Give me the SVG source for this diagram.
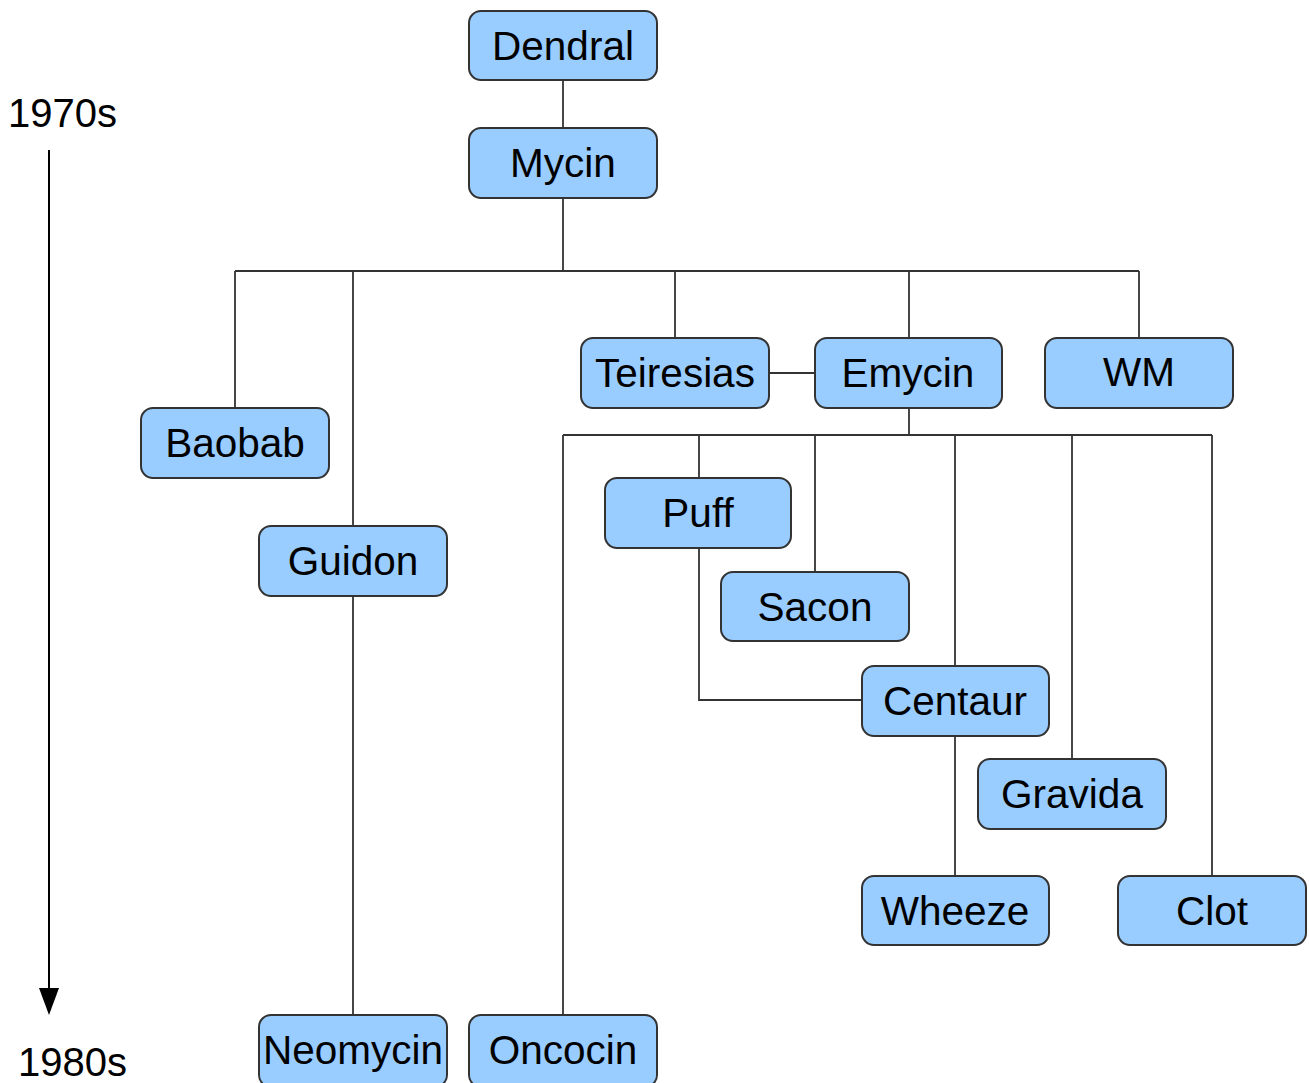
<svg xmlns="http://www.w3.org/2000/svg" width="1309" height="1083" viewBox="0 0 1309 1083">
<style>
.box{fill:#99ccff;stroke:#333;stroke-width:2}
.lbl{font-family:"Liberation Sans",Arial,sans-serif;font-size:40.5px;fill:#000;text-anchor:middle}
.yr{font-family:"Liberation Sans",Arial,sans-serif;font-size:40px;fill:#000}
.c{fill:none;stroke:#333;stroke-width:1.8}
</style>
<rect width="1309" height="1083" fill="#fff"/>
<g id="timeline">
<text class="yr" x="8" y="127">1970s</text>
<line x1="49" y1="150" x2="49" y2="992" stroke="#000" stroke-width="2"/>
<polygon points="39,988 59,988 49,1015" fill="#000"/>
<text class="yr" x="18" y="1076">1980s</text>
</g>
<g id="connectors">
<path class="c" d="M563 80V128"/>
<path class="c" d="M563 198V271M235 271H1139M235 271V408M353 271V526M675 271V338M909 271V338M1139 271V338"/>
<path class="c" d="M353 596V1015"/>
<path class="c" d="M769 373H815"/>
<path class="c" d="M909 408V435M563 435H1212M563 435V1015M699 435V478M815 435V572M955 435V666M1072 435V759M1212 435V876"/>
<path class="c" d="M699 548V700H862"/>
<path class="c" d="M955 736V876"/>
</g>
<g id="dendral"><rect class="box" x="469" y="11" width="188" height="69" rx="12"/><text class="lbl" x="563" y="60">Dendral</text></g>
<g id="mycin"><rect class="box" x="469" y="128" width="188" height="70" rx="12"/><text class="lbl" x="563" y="177">Mycin</text></g>
<g id="baobab"><rect class="box" x="141" y="408" width="188" height="70" rx="12"/><text class="lbl" x="235" y="457">Baobab</text></g>
<g id="guidon"><rect class="box" x="259" y="526" width="188" height="70" rx="12"/><text class="lbl" x="353" y="575">Guidon</text></g>
<g id="teiresias"><rect class="box" x="581" y="338" width="188" height="70" rx="12"/><text class="lbl" x="675" y="387">Teiresias</text></g>
<g id="emycin"><rect class="box" x="815" y="338" width="187" height="70" rx="12"/><text class="lbl" x="908" y="387">Emycin</text></g>
<g id="wm"><rect class="box" x="1045" y="338" width="188" height="70" rx="12"/><text class="lbl" x="1139" y="386">WM</text></g>
<g id="puff"><rect class="box" x="605" y="478" width="186" height="70" rx="12"/><text class="lbl" x="698" y="527">Puff</text></g>
<g id="sacon"><rect class="box" x="721" y="572" width="188" height="69" rx="12"/><text class="lbl" x="815" y="621">Sacon</text></g>
<g id="centaur"><rect class="box" x="862" y="666" width="187" height="70" rx="12"/><text class="lbl" x="955" y="715">Centaur</text></g>
<g id="gravida"><rect class="box" x="978" y="759" width="188" height="70" rx="12"/><text class="lbl" x="1072" y="808">Gravida</text></g>
<g id="wheeze"><rect class="box" x="862" y="876" width="187" height="69" rx="12"/><text class="lbl" x="955" y="925">Wheeze</text></g>
<g id="clot"><rect class="box" x="1118" y="876" width="188" height="69" rx="12"/><text class="lbl" x="1212" y="925">Clot</text></g>
<g id="neomycin"><rect class="box" x="259" y="1015" width="188" height="72" rx="12"/><text class="lbl" x="353" y="1064">Neomycin</text></g>
<g id="oncocin"><rect class="box" x="469" y="1015" width="188" height="72" rx="12"/><text class="lbl" x="563" y="1064">Oncocin</text></g>
</svg>
